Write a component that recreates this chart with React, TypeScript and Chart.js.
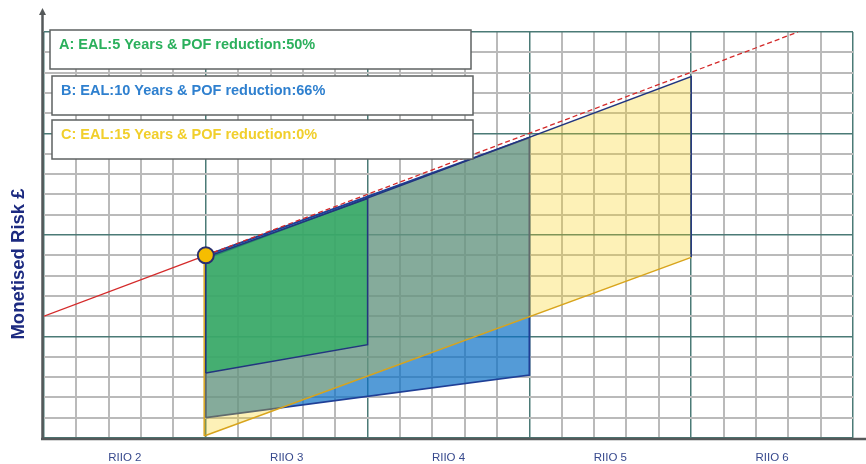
import { useEffect, useRef } from "react";
import { Chart, registerables } from "chart.js";

Chart.register(...registerables);

// Regulatory periods along the x axis, five years each
const periods = ["RIIO 2", "RIIO 3", "RIIO 4", "RIIO 5", "RIIO 6"];
const yearsPerPeriod = 5;
const totalYears = 25;
const riskMax = 20;

const scenarioLabels = [
  "A: EAL:5 Years & POF reduction:50%",
  "B: EAL:10 Years & POF reduction:66%",
  "C: EAL:15 Years & POF reduction:0%",
];

// Scenario envelopes: start/end year, upper and lower monetised risk at each end
const scenarioAYears = [5, 10];
const scenarioAUpper = [8.9, 11.8];
const scenarioALower = [3.2, 4.6];

const scenarioBYears = [5, 15];
const scenarioBUpper = [9.0, 14.8];
const scenarioBLower = [1.0, 3.1];

const scenarioCYears = [4.95, 20];
const scenarioCUpper = [8.8, 17.8];
const scenarioCLower = [0.1, 8.9];

// Do-nothing risk trajectory
const baselineYears = [0, 5, 23.3];
const baselineRisk = [6.0, 9.0, 20.0];

// Intervention point
const interventionYear = [5];
const interventionRisk = [9.0];

const toPoints = (xs: number[], ys: number[]) => xs.map((x, i) => ({ x, y: ys[i] }));

// Closed outline: lower-left, upper-left, upper-right, lower-right, back to start
const outline = (xs: number[], upper: number[], lower: number[]) => [
  { x: xs[0], y: lower[0] },
  { x: xs[0], y: upper[0] },
  { x: xs[1], y: upper[1] },
  { x: xs[1], y: lower[1] },
  { x: xs[0], y: lower[0] },
];

const range = (from: number, to: number, step: number) => {
  const out: number[] = [];
  for (let v = from; v <= to + 1e-9; v += step) out.push(Math.round(v * 100) / 100);
  return out;
};

const NAVY = "#22357f";
const GOLD = "#d8a41c";
const MAJOR_GRID = "#4b7a76";
const MINOR_GRID = "#bababa";

const decorations = {
  id: "decorations",
  afterDatasetsDraw(chart: any) {
    const { ctx, chartArea: a } = chart;
    ctx.save();

    // Axis lines with arrow on the risk axis
    ctx.strokeStyle = "#55595a";
    ctx.fillStyle = "#55595a";
    ctx.lineWidth = 2.5;
    ctx.beginPath();
    ctx.moveTo(a.left - 3, a.bottom + 1);
    ctx.lineTo(chart.width, a.bottom + 1);
    ctx.stroke();
    ctx.beginPath();
    ctx.moveTo(a.left - 1.5, a.bottom + 2);
    ctx.lineTo(a.left - 1.5, 14);
    ctx.stroke();
    ctx.beginPath();
    ctx.moveTo(a.left - 1.5, 8);
    ctx.lineTo(a.left - 5, 15);
    ctx.lineTo(a.left + 2, 15);
    ctx.closePath();
    ctx.fill();

    // Scenario captions
    const boxes = [
      { x: 50, y: 30, w: 421, h: 39, tx: 59, ty: 49, color: "#2bb05c" },
      { x: 52, y: 76, w: 421, h: 39, tx: 61, ty: 95, color: "#2f80cf" },
      { x: 52, y: 120, w: 421, h: 39, tx: 61, ty: 139, color: "#f1cf2c" },
    ];
    boxes.forEach((b, i) => {
      ctx.fillStyle = "#ffffff";
      ctx.fillRect(b.x, b.y, b.w, b.h);
      ctx.strokeStyle = "#5e6262";
      ctx.lineWidth = 1.5;
      ctx.strokeRect(b.x, b.y, b.w, b.h);
      ctx.fillStyle = b.color;
      ctx.font = "bold 14.5px 'Liberation Sans', Arial, sans-serif";
      ctx.textAlign = "left";
      ctx.textBaseline = "alphabetic";
      ctx.fillText(scenarioLabels[i], b.tx, b.ty);
    });

    // Risk axis title
    ctx.translate(19, 264);
    ctx.rotate(-Math.PI / 2);
    ctx.fillStyle = "#1c2a80";
    ctx.font = "bold 18.5px 'Liberation Sans', Arial, sans-serif";
    ctx.textAlign = "center";
    ctx.textBaseline = "middle";
    ctx.fillText("Monetised Risk £", 0, 0);

    ctx.restore();
  },
};

const isWhole = (v: number) => Math.abs(v - Math.round(v)) < 1e-6;
const isMajor = (v: number) => Math.round(v) % yearsPerPeriod === 0;

const gridColor = (ctx: any) => {
  const v = ctx.tick ? ctx.tick.value : 0;
  if (!isWhole(v)) return "rgba(0,0,0,0)";
  return isMajor(v) ? MAJOR_GRID : MINOR_GRID;
};
const gridWidth = (ctx: any) => {
  const v = ctx.tick ? ctx.tick.value : 0;
  return isWhole(v) && isMajor(v) ? 1.5 : 2;
};

const edgeStyle = { pointRadius: 0, pointHitRadius: 0, borderWidth: 0, fill: false };

export default function App() {
  const canvasRef = useRef<HTMLCanvasElement | null>(null);

  useEffect(() => {
    if (!canvasRef.current) return;
    const chart = new Chart(canvasRef.current, {
      type: "line",
      data: {
        datasets: [
          {
            label: "Intervention",
            data: toPoints(interventionYear, interventionRisk),
            showLine: false,
            pointRadius: 8,
            pointBackgroundColor: "#f6bd00",
            pointBorderColor: "#2a2f70",
            pointBorderWidth: 2,
            order: 1,
          },
          {
            label: "Baseline",
            data: toPoints(baselineYears, baselineRisk),
            borderColor: "#d42a2a",
            borderWidth: 1.3,
            pointRadius: 0,
            fill: false,
            segment: {
              borderDash: (c: any) => (c.p0DataIndex >= 1 ? [5, 3] : undefined),
            },
            order: 2,
          },
          // Scenario A
          {
            label: scenarioLabels[0],
            data: outline(scenarioAYears, scenarioAUpper, scenarioALower),
            borderColor: NAVY,
            borderWidth: 1.5,
            pointRadius: 0,
            fill: false,
            order: 3,
          },
          {
            label: "A upper",
            data: toPoints(scenarioAYears, scenarioAUpper),
            ...edgeStyle,
            backgroundColor: "rgba(45,174,97,0.72)",
            fill: "+1",
            order: 3.1,
          },
          { label: "A lower", data: toPoints(scenarioAYears, scenarioALower), ...edgeStyle, order: 3.2 },
          // Scenario C
          {
            label: scenarioLabels[2],
            data: outline(scenarioCYears, scenarioCUpper, scenarioCLower),
            borderWidth: 1.5,
            pointRadius: 0,
            fill: false,
            segment: {
              borderColor: (c: any) => (c.p0DataIndex === 1 || c.p0DataIndex === 2 ? NAVY : GOLD),
            },
            order: 4,
          },
          {
            label: "C upper",
            data: toPoints(scenarioCYears, scenarioCUpper),
            ...edgeStyle,
            backgroundColor: "rgba(248,208,18,0.3)",
            fill: "+1",
            order: 4.1,
          },
          { label: "C lower", data: toPoints(scenarioCYears, scenarioCLower), ...edgeStyle, order: 4.2 },
          // Scenario B
          {
            label: scenarioLabels[1],
            data: outline(scenarioBYears, scenarioBUpper, scenarioBLower),
            borderColor: "#1f3f96",
            borderWidth: 1.8,
            pointRadius: 0,
            fill: false,
            order: 5,
          },
          {
            label: "B upper",
            data: toPoints(scenarioBYears, scenarioBUpper),
            ...edgeStyle,
            backgroundColor: "rgba(12,112,198,0.7)",
            fill: "+1",
            order: 5.1,
          },
          { label: "B lower", data: toPoints(scenarioBYears, scenarioBLower), ...edgeStyle, order: 5.2 },
        ],
      },
      options: {
        responsive: false,
        animation: false,
        layout: { padding: { left: 0, top: 32, right: 12, bottom: 0 } },
        plugins: {
          legend: { display: false },
          tooltip: { enabled: false },
          filler: { propagate: false },
        },
        elements: { line: { tension: 0 } },
        scales: {
          x: {
            type: "linear",
            min: 0,
            max: totalYears,
            afterFit: (s: any) => {
              s.height = 26;
            },
            afterBuildTicks: (s: any) => {
              s.ticks = range(0, totalYears, 0.5).map((value) => ({ value }));
            },
            border: { display: false },
            grid: { color: gridColor, lineWidth: gridWidth, drawTicks: false },
            ticks: {
              autoSkip: false,
              maxRotation: 0,
              minRotation: 0,
              padding: 13,
              color: "#37498d",
              font: { family: "'Liberation Sans', Arial, sans-serif", size: 11.5 },
              callback: (value: any) => {
                const k = (Number(value) - yearsPerPeriod / 2) / yearsPerPeriod;
                return isWhole(k) ? periods[Math.round(k)] ?? "" : "";
              },
            },
          },
          y: {
            type: "linear",
            min: 0,
            max: riskMax,
            afterFit: (s: any) => {
              s.width = 44;
            },
            afterBuildTicks: (s: any) => {
              s.ticks = range(0, riskMax, 1).map((value) => ({ value }));
            },
            border: { display: false },
            grid: { color: gridColor, lineWidth: gridWidth, drawTicks: false },
            ticks: { display: false },
          },
        },
      },
      plugins: [decorations],
    } as any);
    return () => chart.destroy();
  }, []);

  return (
    <div style={{ position: "absolute", left: 0, top: 0, width: 866, height: 464, background: "#ffffff" }}>
      <canvas ref={canvasRef} width={866} height={464} style={{ display: "block" }} />
    </div>
  );
}
